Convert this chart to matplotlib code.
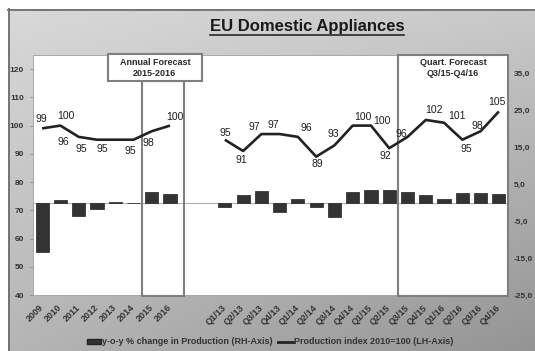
import numpy as np
import matplotlib
matplotlib.use("Agg")
import matplotlib.pyplot as plt
from matplotlib.patches import Rectangle, Patch
from matplotlib.lines import Line2D
from matplotlib.transforms import blended_transform_factory, IdentityTransform

plt.rcParams['font.family'] = ['Liberation Sans', 'DejaVu Sans']

# ---- data -------------------------------------------------------------
years = ['2009', '2010', '2011', '2012', '2013', '2014', '2015', '2016']
quarters = ['Q1/13', 'Q2/13', 'Q3/13', 'Q4/13', 'Q1/14', 'Q2/14', 'Q3/14', 'Q4/14',
            'Q1/15', 'Q2/15', 'Q3/15', 'Q4/15', 'Q1/16', 'Q2/16', 'Q3/16', 'Q4/16']
annual_index = [99, 100, 96, 95, 95, 95, 98, 100]
quarterly_index = [95, 91, 97, 97, 96, 89, 93, 100, 100, 92, 96, 102, 101, 95, 98, 105]
annual_change = [-13.3, 0.7, -3.6, -1.6, 0.3, -0.2, 3.0, 2.3]
quarterly_change = [-1.2, 2.0, 3.1, -2.6, 1.1, -1.2, -3.8, 2.9, 3.4, 3.4,
                    2.9, 2.0, 1.1, 2.6, 2.5, 2.3]
gap_slots = 2
left_ticks = [40, 50, 60, 70, 80, 90, 100, 110, 120]
right_ticks = [-25, -15, -5, 5, 15, 25, 35]

# label offsets (pixels) for the index values
annual_offsets = [(-1, 9), (5, 9.5), (-15, -5), (-16, -9.5), (-13, -9.5), (-3.5, -11.5),
                  (-3, -12), (5, 8.5)]
quarterly_offsets = [(0, 7), (-2, -9), (-7, 7), (-6, 9), (8, 9), (1, -7), (-1, 11),
                     (10, 8.5), (11, 4.5), (-4, -8), (-6.5, 3), (8, 10), (13, 7),
                     (4, -9.5), (-3.5, 5), (-2, 9.5)]

# ---- positions --------------------------------------------------------
x_year = np.arange(len(years))
x_quarter = np.arange(len(quarters)) + len(years) + gap_slots
n_slots = len(years) + gap_slots + len(quarters)
tick_pos = np.arange(n_slots)
tick_labels = years + [''] * gap_slots + quarters

W, H = 535, 351
fig = plt.figure(figsize=(W / 100, H / 100), dpi=100)
fig.patch.set_facecolor('white')

# grey gradient panel behind the chart
bg = fig.add_axes([8 / W, 0, 1 - 8 / W, 1 - 9 / H], zorder=-10)
yy, xx = np.mgrid[0:1:200j, 0:1:300j]
g = 0.85 * (1 - xx) * (1 - yy) + 0.79 * xx * (1 - yy) + 0.71 * (1 - xx) * yy + 0.58 * xx * yy
bg.imshow(np.dstack([g, g, g]), aspect='auto', extent=(0, 1, 0, 1), origin='upper')
bg.set_xlim(0, 1)
bg.set_ylim(0, 1)
bg.set_axis_off()
bg.plot([0.001, 0.001], [0, 1], color='#6e6e6e', lw=1.3, clip_on=False)
bg.plot([0, 1], [0.998, 0.998], color='#6e6e6e', lw=1.3, clip_on=False)

# ---- chart axes -------------------------------------------------------
ax = fig.add_axes([33 / W, (H - 295) / H, 475 / W, 240 / H])
ax2 = ax.twinx()
ax.set_zorder(ax2.get_zorder() + 1)
ax.patch.set_visible(False)
ax2.patch.set_visible(True)
ax2.patch.set_facecolor('white')

ax.set_xlim(-0.5, n_slots - 0.5)
ax.set_ylim(40, 125)
ax2.set_ylim(-25, 40)

# bars: y-o-y change (right axis)
ax2.axhline(0, color='#b0b0b0', lw=0.8, zorder=1)
ax2.bar(x_year, annual_change, width=0.72, color='#333333', edgecolor='#222222', lw=0.5, zorder=2)
ax2.bar(x_quarter, quarterly_change, width=0.72, color='#333333', edgecolor='#222222', lw=0.5, zorder=2)

# line: production index (left axis)
ax.plot(x_year, annual_index, color='#222222', lw=1.9, zorder=4, solid_capstyle='butt')
ax.plot(x_quarter, quarterly_index, color='#222222', lw=1.9, zorder=4, solid_capstyle='butt')
for xs, vals, offs in ((x_year, annual_index, annual_offsets),
                       (x_quarter, quarterly_index, quarterly_offsets)):
    for xv, v, (dx, dy) in zip(xs, vals, offs):
        ax.annotate(str(v), (xv, v), xytext=(dx, dy), textcoords='offset pixels',
                    ha='center', va='center', fontsize=7.5, color='#1e1e1e', zorder=6)

# ticks
ax.set_yticks(left_ticks)
ax.set_yticklabels([str(t) for t in left_ticks])
ax.tick_params(axis='y', length=2.5, width=0.6, color='#8a8a8a', pad=4, labelsize=6,
               labelcolor='#333333')
for lab in ax.get_yticklabels():
    lab.set_fontweight('bold')
ax2.set_yticks(right_ticks)
ax2.set_yticklabels([f"{t:.1f}".replace('.', ',') for t in right_ticks])
ax2.tick_params(axis='y', length=0, pad=4, labelsize=6, labelcolor='#333333')
for lab in ax2.get_yticklabels():
    lab.set_fontweight('bold')

ax.set_xticks(tick_pos)
ax.set_xticklabels(tick_labels, rotation=45, ha='right', va='center',
                   rotation_mode='anchor', fontsize=6.5, fontweight='bold', color='#333333')
ax.tick_params(axis='x', length=0, pad=8)
ax2.tick_params(axis='x', length=0, labelbottom=False)

for a in (ax, ax2):
    for s in a.spines.values():
        s.set_color('#a8a8a8')
        s.set_linewidth(0.6)

# forecast frames
tr = blended_transform_factory(ax.transData, ax.transAxes)
box_col = '#7f7f7f'
ax.add_patch(Rectangle((5.47, -0.004), 7.76 - 5.47, 0.896, transform=tr, fill=False,
                       edgecolor=box_col, lw=1.5, zorder=3, clip_on=False))
ax.add_patch(Rectangle((3.6, 0.892), 8.75 - 3.6, 1.004 - 0.892, transform=tr,
                       facecolor='white', edgecolor=box_col, lw=1.5, zorder=5, clip_on=False))
ax.text(6.17, 0.945, 'Annual Forecast\n2015-2016', transform=tr, ha='center', va='center',
        fontsize=6.5, fontweight='bold', color='#2a2a2a', linespacing=1.3, zorder=6)
ax.add_patch(Rectangle((19.5, -0.004), 6.0, 1.004, transform=tr, fill=False,
                       edgecolor=box_col, lw=1.5, zorder=3, clip_on=False))
ax.text(22.5, 0.945, 'Quart. Forecast\nQ3/15-Q4/16', transform=tr, ha='center', va='center',
        fontsize=6.5, fontweight='bold', color='#2a2a2a', linespacing=1.3, zorder=6)

# title with underline
title = fig.text(307 / W, 1 - 31.5 / H, 'EU Domestic Appliances', ha='center', va='baseline',
                 fontsize=12, fontweight='bold', color='#1a1a1a')

# legend
handles = [Patch(facecolor='#333333', edgecolor='#222222'),
           Line2D([], [], color='#222222', lw=2)]
labels = ['y-o-y % change in Production (RH-Axis)', 'Production index 2010=100 (LH-Axis)']
fig.legend(handles, labels, loc='center', bbox_to_anchor=(270 / W, 1 - 342 / H), ncol=2,
           frameon=False, prop={'size': 6.5, 'weight': 'bold'}, handlelength=1.6,
           handleheight=0.5, handletextpad=0.1, columnspacing=0.6, labelcolor='#333333')

fig.canvas.draw()
bb = title.get_window_extent()
uy = H - 34.5
fig.add_artist(Line2D([bb.x0, bb.x1], [uy, uy], transform=IdentityTransform(),
                      color='#1a1a1a', lw=1.1))

fig.savefig('out.png', dpi=100)
